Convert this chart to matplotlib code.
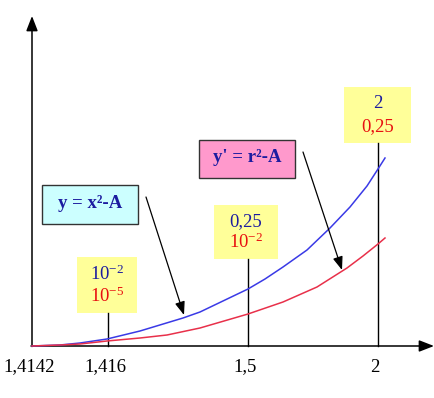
import matplotlib

matplotlib.use("Agg")
import matplotlib.pyplot as plt
from matplotlib.patches import Rectangle

plt.rcParams["font.family"] = ["Liberation Serif", "DejaVu Serif"]
plt.rcParams["mathtext.fontset"] = "custom"
plt.rcParams["mathtext.rm"] = "Liberation Serif"
plt.rcParams["mathtext.it"] = "Liberation Serif:italic"
plt.rcParams["mathtext.bf"] = "Liberation Serif:bold"

# schematic units: x grows right, y = height above the x axis
tick_labels = ["1,4142", "1,416", "1,5", "2"]
tick_x = [32, 108, 248, 378]

blue_x = [32, 60, 80, 107, 140, 183, 200, 248, 265, 283, 307, 330, 350, 367, 378, 385]
blue_y = [0, 1, 3, 7, 15, 28, 34, 57, 67, 79, 96, 118, 139, 160, 177, 188]
red_x = [32, 60, 80, 107, 140, 167, 200, 248, 283, 317, 347, 363, 378, 385]
red_y = [0, 1, 2, 5, 8, 11, 18, 32, 44, 59, 78, 90, 102, 108]

# values written in the yellow boxes, for 1,416 / 1,5 / 2
box_blue = [r"$\mathrm{10^{-2}}$", "0,25", "2"]
box_red = [r"$\mathrm{10^{-5}}$", r"$\mathrm{10^{-2}}$", "0,25"]

BLUE_TXT = "#1c1ca0"
RED_TXT = "#e81010"

fig = plt.figure(figsize=(4.35, 3.98), dpi=100)
ax = fig.add_axes([0, 0, 1, 1])
ax.set_xlim(0, 435)
ax.set_ylim(-52, 346)
ax.axis("off")

# axes with arrow heads
ax.annotate("", xy=(434, 0), xytext=(31, 0),
            arrowprops=dict(arrowstyle="-|>,head_length=0.9,head_width=0.35",
                            color="black", lw=1.1, shrinkA=0, shrinkB=0))
ax.annotate("", xy=(32, 330), xytext=(32, -0.5),
            arrowprops=dict(arrowstyle="-|>,head_length=0.9,head_width=0.35",
                            color="black", lw=1.1, shrinkA=0, shrinkB=0))

ax.plot(blue_x, blue_y, color="#3a3ae6", lw=1.1, zorder=3)
ax.plot(red_x, red_y, color="#e8304a", lw=1.1, zorder=3)

for x, label in zip(tick_x, tick_labels):
    ax.text(x - 3, -21, label, ha="center", va="center", fontsize=13.5)

# yellow value boxes: (left, bottom, width, height) in schematic units
boxes = [(77, 33, 60, 56), (214, 87, 64, 54), (344, 203, 67, 56)]
for (bx, by, bw, bh), vx, top, bot in zip(boxes, tick_x[1:], box_blue, box_red):
    ax.add_patch(Rectangle((bx, by), bw, bh, facecolor="#ffff99",
                           edgecolor="none", zorder=2))
    ax.plot([vx, vx], [0, by], color="black", lw=1.0, zorder=2)
    cx = bx + bw / 2
    ax.text(cx, by + bh * 0.7, top, ha="center", va="center",
            fontsize=13.5, color=BLUE_TXT, zorder=4)
    ax.text(cx, by + bh * 0.3, bot, ha="center", va="center",
            fontsize=13.5, color=RED_TXT, zorder=4)

# formula boxes
ax.add_patch(Rectangle((42, 122), 96, 39, facecolor="#ccffff",
                       edgecolor="#333333", lw=1.0, zorder=2))
ax.text(90, 142, "y = x²-A", ha="center", va="center", fontsize=13.5,
        fontweight="bold", color=BLUE_TXT, zorder=4)
ax.add_patch(Rectangle((199, 168), 96, 38, facecolor="#ff99cc",
                       edgecolor="#333333", lw=1.0, zorder=2))
ax.text(247, 188, "y' = r²-A", ha="center", va="center", fontsize=13.5,
        fontweight="bold", color=BLUE_TXT, zorder=4)

# pointer arrows from the formula boxes to their curves
ax.annotate("", xy=(184, 31), xytext=(146, 149),
            arrowprops=dict(arrowstyle="-|>,head_length=0.8,head_width=0.3",
                            color="black", lw=0.9, shrinkA=0, shrinkB=0))
ax.annotate("", xy=(342, 76), xytext=(303, 194),
            arrowprops=dict(arrowstyle="-|>,head_length=0.8,head_width=0.3",
                            color="black", lw=0.9, shrinkA=0, shrinkB=0))

fig.savefig("out.png", dpi=100, facecolor="white")
plt.close(fig)
